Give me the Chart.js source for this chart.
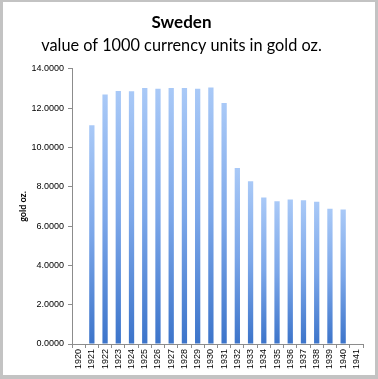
<!DOCTYPE html>
<html>
<head>
<meta charset="utf-8">
<script src="https://cdn.jsdelivr.net/npm/chart.js@4/dist/chart.umd.min.js"></script>
<style>
  html, body { margin: 0; padding: 0; background: #fff; }
  #wrap { position: relative; width: 378px; height: 379px; }
  #chart { position: absolute; left: 0; top: 0; }
  #frame {
    position: absolute; left: 0; top: 0; width: 378px; height: 379px;
    box-sizing: border-box; pointer-events: none;
    border-style: solid; border-color: #c3c3c3;
    border-width: 2px 3px 4px 3px;
  }
</style>
</head>
<body>
<div id="wrap">
  <canvas id="chart" width="378" height="379"></canvas>
  <div id="frame"></div>
</div>
<script>
// years on the x axis
const years = ['1920', '1921', '1922', '1923', '1924', '1925', '1926', '1927', '1928', '1929', '1930',
  '1931', '1932', '1933', '1934', '1935', '1936', '1937', '1938', '1939', '1940', '1941'];

// value of 1000 currency units in gold oz. (no bar for 1920 and 1941)
const goldOz = [null, 11.13, 12.70, 12.88, 12.87, 13.03, 12.99, 13.03, 13.03, 12.99, 13.05,
  12.27, 8.96, 8.28, 7.46, 7.26, 7.36, 7.32, 7.24, 6.89, 6.84, null];

const yTicks = { min: 0, max: 14, step: 2 };

const titleText = 'Sweden';
const subtitleText = 'value of 1000 currency units in gold oz.';
const yTitle = 'gold oz.';

// each bar gets its own light-top / dark-bottom gradient
function barFill(context) {
  const chart = context.chart;
  const area = chart.chartArea;
  if (!area || context.parsed == null || context.parsed.y == null) return '#6f9be0';
  const yScale = chart.scales.y;
  const top = yScale.getPixelForValue(context.parsed.y);
  const bottom = yScale.getPixelForValue(0);
  const g = chart.ctx.createLinearGradient(0, top, 0, bottom);
  g.addColorStop(0, '#a9c9f7');
  g.addColorStop(0.5, '#7ca7e9');
  g.addColorStop(1, '#3c74ca');
  return g;
}

const ctx = document.getElementById('chart').getContext('2d');
new Chart(ctx, {
  type: 'bar',
  data: {
    labels: years,
    datasets: [{
      data: goldOz,
      backgroundColor: barFill,
      borderWidth: 0,
      barPercentage: 0.4,
      categoryPercentage: 1.0
    }]
  },
  options: {
    responsive: false,
    animation: false,
    layout: { padding: { left: 0, right: 15, top: 0, bottom: 0 } },
    plugins: {
      legend: { display: false },
      tooltip: { enabled: false },
      title: {
        display: true,
        text: titleText,
        color: '#000',
        font: { family: 'Lato', size: 17, weight: 'bold', lineHeight: 1.2 },
        padding: { top: 12.8, bottom: 0 }
      },
      subtitle: {
        display: true,
        text: subtitleText,
        color: '#000',
        font: { family: 'Lato', size: 16.3, lineHeight: 1.2 },
        padding: { top: 2.6, bottom: 13.6 }
      }
    },
    scales: {
      x: {
        afterFit(scale) { scale.height = 35; },
        grid: { display: true, drawOnChartArea: false, offset: true, color: '#8c8c8c', tickLength: 4 },
        border: { display: true, color: '#8c8c8c', width: 1 },
        ticks: {
          color: '#000',
          autoSkip: false,
          minRotation: 90,
          maxRotation: 90,
          padding: 1,
          font: { family: 'Liberation Sans', size: 9 }
        }
      },
      y: {
        min: yTicks.min,
        max: yTicks.max,
        afterFit(scale) { scale.width = 72; },
        grid: { display: true, drawOnChartArea: false, color: '#8c8c8c', tickLength: 4 },
        border: { display: true, color: '#8c8c8c', width: 1 },
        ticks: {
          stepSize: yTicks.step,
          color: '#000',
          padding: 4,
          font: { family: 'Liberation Sans', size: 9 },
          callback: v => Number(v).toFixed(4)
        },
        title: {
          display: true,
          text: yTitle,
          color: '#000',
          font: { family: 'Lato', size: 9, weight: 'bold', lineHeight: 1.2 },
          padding: { top: 18, bottom: 0 }
        }
      }
    }
  }
});
</script>
</body>
</html>
